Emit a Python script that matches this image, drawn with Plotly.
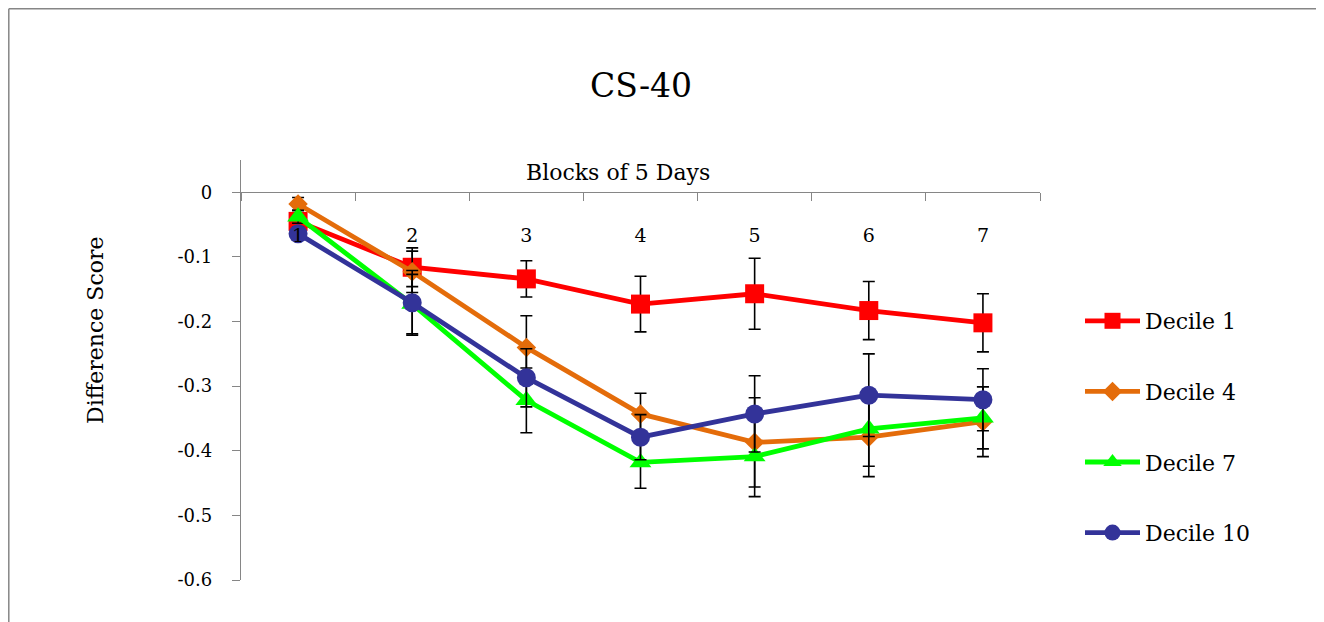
import plotly.graph_objects as go

blocks = ['1', '2', '3', '4', '5', '6', '7']

names = ['Decile 1', 'Decile 4', 'Decile 7', 'Decile 10']
decile1 = [-0.045, -0.116, -0.134, -0.173, -0.157, -0.183, -0.202]
decile1_err = [0.010, 0.030, 0.028, 0.043, 0.055, 0.045, 0.045]
decile4 = [-0.018, -0.123, -0.240, -0.343, -0.387, -0.379, -0.355]
decile4_err = [0.010, 0.032, 0.049, 0.032, 0.069, 0.061, 0.054]
decile7 = [-0.038, -0.173, -0.322, -0.418, -0.409, -0.366, -0.349]
decile7_err = [0.010, 0.046, 0.050, 0.040, 0.062, 0.058, 0.048]
decile10 = [-0.064, -0.171, -0.287, -0.379, -0.343, -0.314, -0.321]
decile10_err = [0.010, 0.050, 0.045, 0.035, 0.059, 0.064, 0.048]

series = [decile1, decile4, decile7, decile10]
errors = [decile1_err, decile4_err, decile7_err, decile10_err]
colors = ['#FF0000', '#E46C0A', '#00FF00', '#333399']
symbols = ['square', 'diamond', 'triangle-up', 'circle']
sizes = [19, 15, 19, 19]

FONT = 'DejaVu Serif'
AX = '#868686'
OFF = 8  # page body margin

fig = go.Figure()
for i in range(4):
    fig.add_trace(go.Scatter(
        x=blocks, y=series[i], name=names[i], mode='lines+markers',
        legendgroup=names[i],
        line=dict(color=colors[i], width=4.8),
        marker=dict(symbol=symbols[i], size=sizes[i], color=colors[i]),
        error_y=dict(type='data', array=errors[i], visible=True,
                     color='black', thickness=1.6, width=6),
    ))

# plot area in page pixels: x 241..1040, y 160..580
def px(x):
    return (x - 241) / 799.0

def py(y):
    return (580 - y) / 420.0

W, H = 1324 - OFF, 622 - OFF

fig.update_layout(
    width=W, height=H,
    margin=dict(l=241 - OFF, r=W - (1040 - OFF), t=160 - OFF, b=H - (580 - OFF)),
    paper_bgcolor='white', plot_bgcolor='white',
    font=dict(family=FONT, color='black', size=17),
    title=dict(text='CS-40', x=(641 - OFF) / W, xanchor='center',
               y=1 - (85 - OFF) / H, yanchor='middle',
               font=dict(family=FONT, size=33, color='black')),
    showlegend=True,
    legend=dict(x=px(1080), xanchor='left', y=py(300), yanchor='top',
                font=dict(family=FONT, size=22, color='black'),
                tracegroupgap=39, itemwidth=55, bgcolor='rgba(0,0,0,0)'),
    xaxis=dict(type='category', range=[-0.5, 6.5], anchor='free',
               position=0.6 / 0.65, side='bottom',
               showline=True, linecolor=AX, linewidth=1.3,
               ticks='outside', ticklen=8, tickcolor=AX, tickwidth=1.3,
               tickson='boundaries', showgrid=False, zeroline=False,
               ticklabelstandoff=26,
               tickfont=dict(family=FONT, size=19, color='black')),
    yaxis=dict(range=[-0.6, 0.05], tickvals=[0, -0.1, -0.2, -0.3, -0.4, -0.5, -0.6],
               ticktext=['0', '-0.1', '-0.2', '-0.3', '-0.4', '-0.5', '-0.6'],
               showline=True, linecolor=AX, linewidth=1.3,
               ticks='outside', ticklen=8, tickcolor=AX, tickwidth=1.3,
               showgrid=False, zeroline=False, ticklabelstandoff=16,
               tickfont=dict(family=FONT, size=18, color='black')),
    annotations=[
        dict(text='Blocks of 5 Days', xref='paper', yref='paper',
             x=px(618), y=py(172), xanchor='center', yanchor='middle',
             showarrow=False, font=dict(family=FONT, size=22, color='black')),
        dict(text='Difference Score', xref='paper', yref='paper',
             x=px(95), y=py(330), xanchor='center', yanchor='middle',
             textangle=-90, showarrow=False,
             font=dict(family=FONT, size=22, color='black')),
    ],
    shapes=[
        dict(type='line', xref='paper', yref='paper',
             x0=px(8.8), x1=px(1340), y0=py(8.8), y1=py(8.8),
             line=dict(color=AX, width=1.5)),
        dict(type='line', xref='paper', yref='paper',
             x0=px(8.8), x1=px(8.8), y0=py(8.8), y1=py(640),
             line=dict(color=AX, width=1.5)),
    ],
)

fig.write_html('out.html')
